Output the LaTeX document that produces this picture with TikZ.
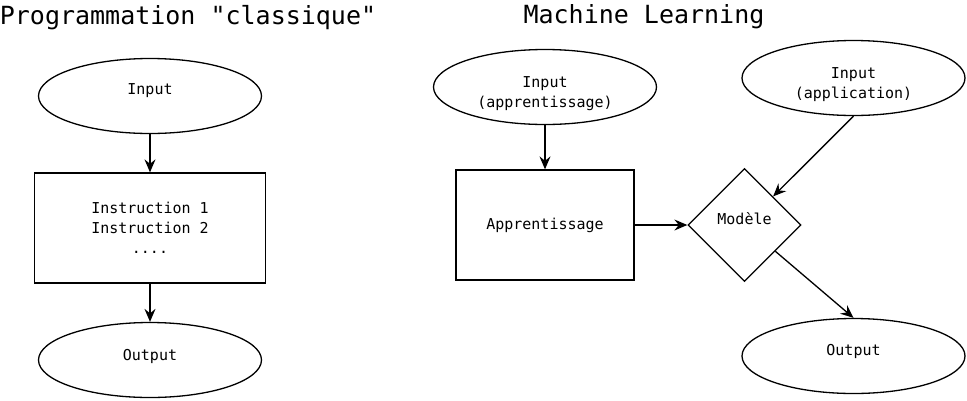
\documentclass[tikz,border=0pt]{standalone}
\usepackage{fontspec}
\setmonofont{DejaVu Sans Mono}
\usetikzlibrary{shapes.geometric,arrows.meta}

\begin{document}
\begin{tikzpicture}[
            x=1pt, y=-1pt,
            node distance=132pt,
            line width=1.3pt,
            every node/.style={font=\ttfamily\fontsize{15}{20}\selectfont, align=center},
            title/.style={font=\ttfamily\fontsize{25}{30}\selectfont},
            terminal/.style={ellipse, draw, minimum width=223pt, minimum height=75pt, inner sep=0pt},
            box/.style={rectangle, draw, minimum width=231pt, minimum height=110pt},
            learnbox/.style={rectangle, draw, minimum width=178pt, minimum height=110pt},
            model/.style={diamond, draw, minimum width=113pt, minimum height=113pt, inner sep=0pt},
            arrow/.style={-{Stealth[length=13pt,width=11pt,inset=4.5pt]}}
            ]
            \useasboundingbox (0,0) rectangle (967,400);

            % Titles
            \node[title] (classic) at (188,18) {Programmation "classique"};
            \node[title] (ml) at (644,17) {Machine Learning};

            % Classic programming
            \node[box] (instr) at (150,228) {Instruction 1\\Instruction 2\\....};
            \node[terminal, above of=instr, label={[yshift=5pt]center:Input}] (input) {};
            \node[terminal, below of=instr, label={[yshift=4pt]center:Output}] (output) {};

            % Machine learning
            \node[learnbox] (learn) at (545,225) {Apprentissage};
            \node[terminal, above of=learn, yshift=6pt, label={[yshift=-6.5pt]center:Input\\(apprentissage)}] (learnin) {};
            \node[model, right of=learn, xshift=67.5pt, label={[yshift=6pt]center:Modèle}] (model) {};
            \node[terminal, label={[yshift=-6.5pt]center:Input\\(application)}] (appin) at (853.5,78) {};
            \node[terminal, label={[yshift=5pt]center:Output}] (appout) at (853.5,356) {};

            % Arrows
            \draw[arrow] (input) -- (instr);
            \draw[arrow] (instr) -- (output);
            \draw[arrow] (learnin) -- (learn);
            \draw[arrow] (learn) -- (model);
            \draw[arrow] (appin.south) -- (model);
            \draw[arrow] (model) -- (appout.north);

        \end{tikzpicture}
\end{document}
